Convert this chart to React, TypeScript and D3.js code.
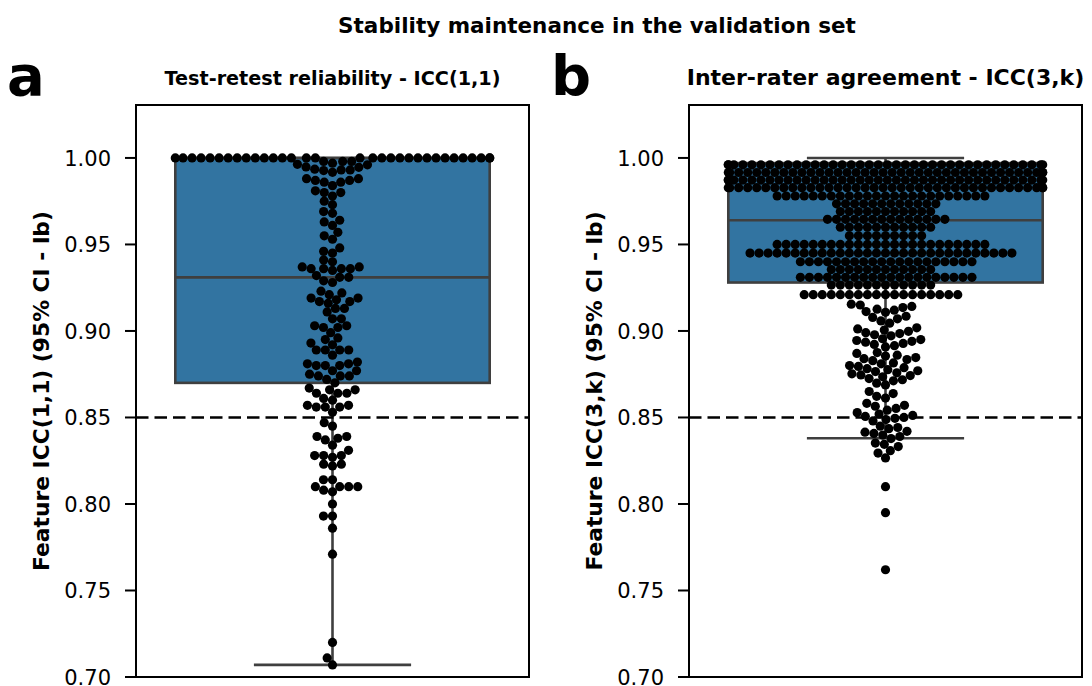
import React, { useMemo } from "react";
import * as d3 from "d3";

// ---------------- data ----------------
const mainTitle = "Stability maintenance in the validation set";
const panelLetters = ["a", "b"];
const panelTitles = ["Test-retest reliability - ICC(1,1)", "Inter-rater agreement - ICC(3,k)"];
const yLabels = ["Feature ICC(1,1) (95% CI - lb)", "Feature ICC(3,k) (95% CI - lb)"];
const yTicks = [0.7, 0.75, 0.8, 0.85, 0.9, 0.95, 1.0];
const yDomain = [0.7, 1.0306];
const threshold = 0.85;

// box stats: [lower whisker, Q1, median, Q3, upper whisker]
const boxA = [0.707, 0.87, 0.931, 1.0, 1.0];
const boxB = [0.838, 0.928, 0.964, 0.997, 1.0];

const iccA = [
  1, 1, 1, 1, 1, 1, 1, 1, 1, 1, 1, 1, 1, 1, 1, 1,
  1, 1, 1, 1, 1, 1, 1, 1, 1, 1, 1, 1, 1, 1, 1, 1,
  0.9963, 0.996, 0.998, 0.997, 0.998, 0.998, 0.9948,
  0.9935, 0.9927, 0.9917, 0.9931, 0.9931, 0.9946,
  0.988, 0.987, 0.986, 0.984, 0.981, 0.986, 0.987, 0.988,
  0.98, 0.978, 0.98,
  0.975, 0.973,
  0.969, 0.968, 0.963, 0.964, 0.961, 0.957,
  0.955, 0.953,
  0.948, 0.945, 0.946, 0.941, 0.94,
  0.937, 0.936, 0.936, 0.935, 0.936, 0.936, 0.937,
  0.932, 0.929, 0.928, 0.931, 0.931,
  0.922, 0.921, 0.923, 0.919, 0.917, 0.918, 0.917, 0.916, 0.919, 0.913, 0.911, 0.913,
  0.907, 0.907, 0.903, 0.902, 0.902, 0.903, 0.899,
  0.895, 0.896, 0.893, 0.892, 0.889, 0.889, 0.889, 0.889, 0.886,
  0.881, 0.88, 0.88, 0.88, 0.881, 0.882, 0.877, 0.877, 0.875, 0.874, 0.872, 0.874, 0.874, 0.87,
  0.867, 0.864, 0.866, 0.864, 0.864, 0.866, 0.861, 0.86, 0.857, 0.856, 0.856, 0.856, 0.857,
  0.853, 0.847, 0.845,
  0.839, 0.837, 0.838, 0.839, 0.834,
  0.831, 0.828, 0.828, 0.828, 0.827, 0.823, 0.822, 0.823,
  0.814, 0.814, 0.81, 0.808, 0.807, 0.81, 0.81, 0.81,
  0.8, 0.793, 0.793, 0.786, 0.771, 0.72, 0.711, 0.707,
];

const iccB = [
  // top band
  0.996, 0.996, 0.996, 0.996, 0.996, 0.996, 0.996, 0.996, 0.996, 0.996,
  0.996, 0.996, 0.996, 0.996, 0.996, 0.996, 0.996, 0.996, 0.996, 0.996,
  0.996, 0.996, 0.996, 0.996, 0.996, 0.996, 0.996, 0.996, 0.996, 0.996,
  0.996, 0.996, 0.996, 0.996, 0.996, 0.996, 0.996, 0.996,
  0.9916, 0.9916, 0.9916, 0.9916, 0.9916, 0.9916, 0.9916, 0.9916, 0.9916, 0.9916,
  0.9916, 0.9916, 0.9916, 0.9916, 0.9916, 0.9916, 0.9916, 0.9916, 0.9916, 0.9916,
  0.9916, 0.9916, 0.9916, 0.9916, 0.9916, 0.9916, 0.9916, 0.9916, 0.9916, 0.9916,
  0.9916, 0.9916, 0.9916, 0.9916, 0.9916, 0.9916, 0.9916, 0.9916,
  0.9872, 0.9872, 0.9872, 0.9872, 0.9872, 0.9872, 0.9872, 0.9872, 0.9872, 0.9872,
  0.9872, 0.9872, 0.9872, 0.9872, 0.9872, 0.9872, 0.9872, 0.9872, 0.9872, 0.9872,
  0.9872, 0.9872, 0.9872, 0.9872, 0.9872, 0.9872, 0.9872, 0.9872, 0.9872, 0.9872,
  0.9872, 0.9872, 0.9872, 0.9872, 0.9872, 0.9872, 0.9872, 0.9872,
  0.9828, 0.9828, 0.9828, 0.9828, 0.9828, 0.9828, 0.9828, 0.9828, 0.9828, 0.9828,
  0.9828, 0.9828, 0.9828, 0.9828, 0.9828, 0.9828, 0.9828, 0.9828, 0.9828, 0.9828,
  0.9828, 0.9828, 0.9828, 0.9828, 0.9828, 0.9828, 0.9828, 0.9828, 0.9828, 0.9828,
  0.9828, 0.9828, 0.9828, 0.9828, 0.9828, 0.9828, 0.9828, 0.9828,
  // middle
  0.978, 0.978, 0.978, 0.978, 0.978, 0.978, 0.978, 0.978, 0.978, 0.978, 0.978, 0.978,
  0.978, 0.978, 0.978, 0.978, 0.978, 0.978, 0.978, 0.978, 0.978, 0.978, 0.978, 0.978,
  0.9735, 0.9735, 0.9735, 0.9735, 0.9735, 0.9735, 0.9735, 0.9735, 0.9735, 0.9735, 0.9735, 0.9735,
  0.969, 0.969, 0.969, 0.969, 0.969, 0.969, 0.969, 0.969, 0.969, 0.969, 0.969,
  0.9645, 0.9645, 0.9645, 0.9645, 0.9645, 0.9645, 0.9645, 0.9645, 0.9645, 0.9645, 0.9645, 0.9645, 0.9645, 0.9645,
  0.96, 0.96, 0.96, 0.96, 0.96, 0.96, 0.96, 0.96, 0.96, 0.96, 0.96,
  0.955, 0.955, 0.955, 0.955, 0.955, 0.955, 0.955, 0.955, 0.955,
  0.95, 0.95, 0.95, 0.95, 0.95, 0.95, 0.95, 0.95, 0.95, 0.95, 0.95, 0.95,
  0.95, 0.95, 0.95, 0.95, 0.95, 0.95, 0.95, 0.95, 0.95, 0.95, 0.95, 0.95,
  0.945, 0.945, 0.945, 0.945, 0.945, 0.945, 0.945, 0.945, 0.945, 0.945,
  0.945, 0.945, 0.945, 0.945, 0.945, 0.945, 0.945, 0.945, 0.945, 0.945,
  0.945, 0.945, 0.945, 0.945, 0.945, 0.945, 0.945, 0.945, 0.945, 0.945,
  0.94, 0.94, 0.94, 0.94, 0.94, 0.94, 0.94, 0.94, 0.94, 0.94,
  0.94, 0.94, 0.94, 0.94, 0.94, 0.94, 0.94, 0.94, 0.94, 0.94,
  0.9355, 0.9355, 0.9355, 0.9355, 0.9355, 0.9355, 0.9355, 0.9355, 0.9355, 0.9355, 0.9355, 0.9355,
  0.931, 0.931, 0.931, 0.931, 0.931, 0.931, 0.931, 0.931, 0.931, 0.931,
  0.931, 0.931, 0.931, 0.931, 0.931, 0.931, 0.931, 0.931, 0.931, 0.931,
  0.9265, 0.9265, 0.9265, 0.9265, 0.9265, 0.9265, 0.9265, 0.9265, 0.9265, 0.9265, 0.9265, 0.9265,
  0.921, 0.921, 0.921, 0.921, 0.921, 0.921, 0.921, 0.921, 0.921,
  0.921, 0.921, 0.921, 0.921, 0.921, 0.921, 0.921, 0.921, 0.921,
  // lower tail
  0.9155, 0.9108, 0.9142, 0.912, 0.915, 0.9112, 0.9135, 0.9126,
  0.9085, 0.9045, 0.907, 0.9058, 0.9078,
  0.9018, 0.8972, 0.9005, 0.8985, 0.9012, 0.8978, 0.8998, 0.899,
  0.8955, 0.8908, 0.894, 0.8922, 0.895, 0.8915, 0.8935, 0.8928, 0.8945,
  0.8875, 0.8828, 0.886, 0.884, 0.887, 0.8835, 0.8855, 0.8846,
  0.8815, 0.877, 0.88, 0.8782, 0.881, 0.8776, 0.8795, 0.8788,
  0.8765, 0.8735, 0.8758, 0.8742, 0.8752, 0.8746,
  0.8725, 0.8688, 0.8712, 0.8698, 0.8718,
  0.865, 0.8612, 0.8638, 0.8622,
  0.8582, 0.8542, 0.857, 0.8552, 0.8565,
  0.8528, 0.848, 0.8512, 0.8495, 0.852, 0.8488, 0.8506, 0.85,
  0.845, 0.8408, 0.8435, 0.842, 0.8442, 0.8415,
  0.8398, 0.8378, 0.839,
  0.8352, 0.8332, 0.8345,
  0.8308, 0.8294,
  0.8266,
  0.81, 0.795, 0.762,
];

const panelValues = [iccA, iccB];
const panelBoxes = [boxA, boxB];

// ---------------- layout ----------------
const W = 1092;
const H = 686;
const plotTop = 105;
const plotBottom = 677;
const panelX = [
  [136, 529],
  [689, 1082],
];
const titleSizes = [19.2, 22];
const FONT = "'DejaVu Sans', Verdana, sans-serif";
const BOX_FILL = "#3274a1";
const BOX_EDGE = "#3f3f3f";
const DOT_R = 4.6;
const SWARM_R = 4.3;

type Pt = { v: number; x: number; y: number };

function beeswarm(values: number[], y: (v: number) => number, cx: number, r: number, half: number): Pt[] {
  const pts: Pt[] = values.map((v) => ({ v, x: cx, y: y(v) }));
  pts.sort((a, b) => b.y - a.y);
  const sep = 2 * r;
  const placed: Pt[] = [];
  for (const p of pts) {
    const nb = placed.filter((q) => Math.abs(q.y - p.y) < sep);
    const cands = [cx];
    for (const q of nb) {
      const dy = q.y - p.y;
      const dx = Math.sqrt(sep * sep - dy * dy) * 1.05;
      cands.push(q.x - dx, q.x + dx);
    }
    cands.sort((a, b) => Math.abs(a - cx) - Math.abs(b - cx));
    let best = cands[0];
    for (const c of cands) {
      let ok = true;
      for (const q of nb) {
        const dx = q.x - c;
        const dy = q.y - p.y;
        if (dx * dx + dy * dy < sep * sep - 1e-6) {
          ok = false;
          break;
        }
      }
      if (ok) {
        best = c;
        break;
      }
    }
    p.x = best;
    placed.push(p);
  }
  for (const p of pts) p.x = Math.max(cx - half, Math.min(cx + half, p.x));
  return pts;
}

function Panel({ idx }: { idx: number }) {
  const [x0, x1] = panelX[idx];
  const y = d3.scaleLinear().domain(yDomain).range([plotBottom, plotTop]);
  const xBand = d3.scaleLinear().domain([-0.5, 0.5]).range([x0, x1]);
  const cx = xBand(0);
  const boxW = xBand(0.4) - xBand(-0.4);
  const capW = xBand(0.2) - xBand(-0.2);
  const [wLo, q1, med, q3, wHi] = panelBoxes[idx];
  const pts = useMemo(() => beeswarm(panelValues[idx], y, cx, SWARM_R, boxW / 2), [idx]);
  const midY = (plotTop + plotBottom) / 2;
  return (
    <g>
      <rect
        x={cx - boxW / 2}
        y={y(q3)}
        width={boxW}
        height={y(q1) - y(q3)}
        fill={BOX_FILL}
        stroke={BOX_EDGE}
        strokeWidth={2.6}
      />
      <line x1={cx - boxW / 2} x2={cx + boxW / 2} y1={y(med)} y2={y(med)} stroke={BOX_EDGE} strokeWidth={2.6} />
      <line x1={cx} x2={cx} y1={y(q1)} y2={y(wLo)} stroke={BOX_EDGE} strokeWidth={2.6} />
      <line x1={cx} x2={cx} y1={y(q3)} y2={y(wHi)} stroke={BOX_EDGE} strokeWidth={2.6} />
      <line x1={cx - capW / 2} x2={cx + capW / 2} y1={y(wLo)} y2={y(wLo)} stroke={BOX_EDGE} strokeWidth={2.6} />
      <line x1={cx - capW / 2} x2={cx + capW / 2} y1={y(wHi)} y2={y(wHi)} stroke={BOX_EDGE} strokeWidth={2.6} />
      <line
        x1={x0}
        x2={x1}
        y1={y(threshold)}
        y2={y(threshold)}
        stroke="#000"
        strokeWidth={2.6}
        strokeDasharray="12.5 6"
      />
      {pts.map((p, i) => (
        <circle key={i} cx={p.x} cy={p.y} r={DOT_R} fill="#000" />
      ))}
      <rect x={x0} y={plotTop} width={x1 - x0} height={plotBottom - plotTop} fill="none" stroke="#000" strokeWidth={2} />
      {yTicks.map((t) => (
        <g key={t}>
          <line x1={x0 - 11} x2={x0} y1={y(t)} y2={y(t)} stroke="#000" strokeWidth={2} />
          <text x={x0 - 25} y={y(t)} dy="0.36em" textAnchor="end" fontFamily={FONT} fontSize={21} fill="#000">
            {d3.format(".2f")(t)}
          </text>
        </g>
      ))}
      <text
        transform={`translate(${x0 - 87},${midY}) rotate(-90)`}
        textAnchor="middle"
        fontFamily={FONT}
        fontWeight="bold"
        fontSize={21.8}
        fill="#000"
      >
        {yLabels[idx]}
      </text>
      <text x={cx} y={85} textAnchor="middle" fontFamily={FONT} fontWeight="bold" fontSize={titleSizes[idx]} fill="#000">
        {panelTitles[idx]}
      </text>
      <text x={idx === 0 ? 7 : 551} y={95} fontFamily={FONT} fontWeight="bold" fontSize={56} fill="#000">
        {panelLetters[idx]}
      </text>
    </g>
  );
}

export default function App() {
  return (
    <svg width={W} height={H} style={{ position: "absolute", left: 0, top: 0, background: "#fff" }}>
      <rect x={0} y={0} width={W} height={H} fill="#fff" />
      <text x={597} y={33} textAnchor="middle" fontFamily={FONT} fontWeight="bold" fontSize={21.5} fill="#000">
        {mainTitle}
      </text>
      <Panel idx={0} />
      <Panel idx={1} />
    </svg>
  );
}
